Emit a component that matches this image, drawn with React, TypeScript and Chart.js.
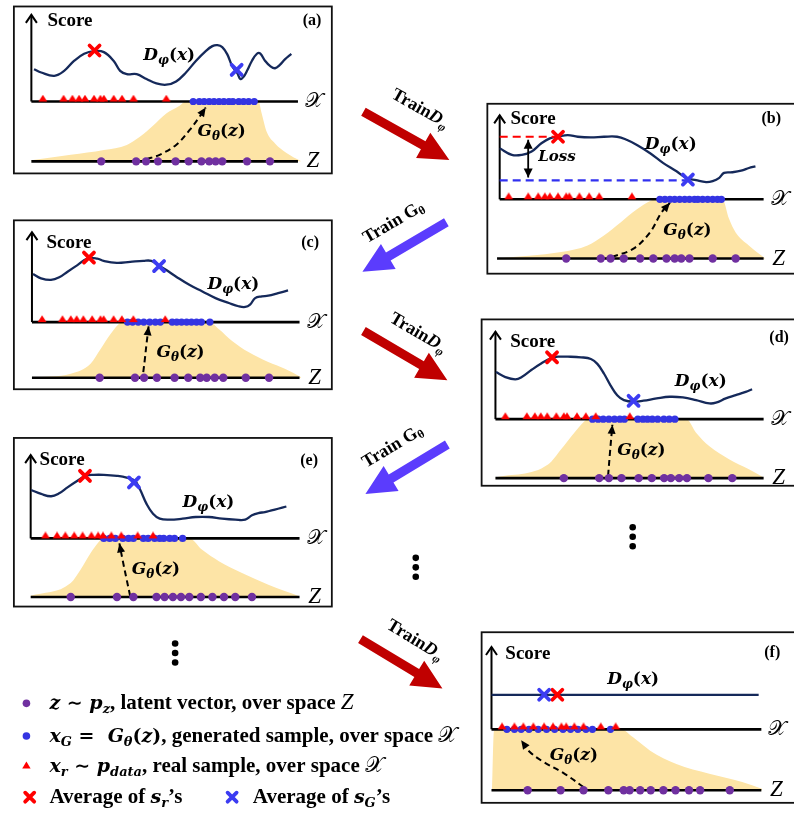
import React, { useEffect, useRef } from 'react';
import { Chart, registerables } from 'chart.js';

Chart.register(...registerables);

type P = [number, number];

// ---------------- DATA ----------------
// Panel units: x = 0..100 along the X axis, score = 0..100 from X axis to the Score arrow tip,
// density = 0..100 from the Z axis up to the X axis.

// (a)
const curveA: P[] = [[1.0,37.3],[3.7,33.5],[8.6,29.7],[12.3,35.4],[16.0,46.8],[19.8,55.1],[23.5,58.2],[27.2,57.0],[30.9,46.8],[33.3,35.4],[35.8,31.6],[39.5,31.6],[43.2,25.9],[46.9,20.9],[50.6,19.4],[54.3,23.2],[58.0,33.5],[61.7,46.8],[65.4,58.2],[67.9,63.9],[69.8,65.0],[71.6,62.7],[73.5,54.4],[75.3,41.1],[77.2,33.0],[78.4,25.9],[79.6,28.5],[80.9,35.4],[82.7,46.8],[84.6,55.1],[85.8,55.5],[87.7,46.8],[89.5,41.1],[91.4,38.4],[93.2,42.2],[95.1,48.7],[97.5,55.1]];
const avgRealA: P = [23.7, 58.9];
const avgGenA: P = [77.0, 36.5];
const realA = [4.3,12.1,15.4,17.9,20.1,23.5,25.9,27.2,30.9,34.0,38.3,50.6];
const genA = [60.7,63.0,64.8,66.7,68.5,70.4,72.2,74.1,75.6,77.8,79.6,81.5,83.6];
const latentA = [26.2,39.3,43.0,47.5,54.1,59.0,63.8,66.7,69.1,71.6,80.9,89.5];
const densityA: P[] = [[0,2],[14.8,11],[27.2,19],[35.8,27.5],[40.7,41],[45.7,60],[50.6,80],[55.6,93],[58.0,100],[85.2,100],[86.4,80],[88.3,49],[91.4,30],[95.7,14],[101.2,0]];
const mapA: P[] = [[43.2,3.8],[48.1,11],[54.3,27.5],[59.3,52],[63.0,74],[65.4,90]];

// (b)
const curveB: P[] = [[0,60.8],[4.6,52.9],[8.4,52.9],[12.1,56.9],[15.8,66.7],[19.0,72.5],[22.1,74.5],[25.8,76.5],[29.6,74.5],[34.5,73.7],[39.5,74.5],[44.5,74.5],[48.3,70.6],[52.0,64.7],[57.0,54.9],[62.0,43.1],[67.0,33.3],[70.7,25.5],[74.4,22.7],[78.2,20.4],[80.7,21.6],[83.2,25.5],[85.0,31.4],[88.2,32.2],[91.9,34.5],[94.4,37.3],[96.9,39.2]];
const avgRealB: P = [22.1, 74.5];
const avgGenB: P = [71.3, 23.5];
const realB = [3.4,10.8,14.6,17.1,19.0,22.1,25.2,26.4,30.2,33.9,37.7,50.1];
const genB = [60.7,62.6,64.5,66.3,68.2,70.1,71.9,73.8,75.1,76.9,78.8,80.7,82.5,84.0];
const latentB = [25.2,38.3,42.0,47.0,53.2,58.2,63.2,66.3,68.8,71.9,80.7,89.4];
const densityB: P[] = [[-1,0],[23.3,11],[33.3,22],[39.5,39],[45.8,61],[52.0,83],[57.0,97],[59.5,100],[84.4,100],[86.9,67],[89.4,44],[94.4,22],[100.6,0]];
const mapB: P[] = [[42.6,2.8],[50.7,16.7],[57.0,44.4],[61.3,77.8],[64.5,94]];
const realLevelB: P[] = [[0,74.5],[22.1,74.5]];
const genLevelB: P[] = [[0,22.5],[71.3,22.5]];
const lossB: P[] = [[10.8,71],[10.8,26]];

// (c)
const curveC: P[] = [[0.4,53.5],[3.4,48.7],[7.1,46.9],[10.2,49.8],[13.3,56.0],[17.0,63.4],[20.7,70.7],[24.4,70.7],[26.8,68.1],[31.7,65.9],[36.7,67.0],[41.6,68.1],[44.6,68.1],[47.1,63.4],[50.2,57.9],[53.9,50.5],[58.8,41.4],[63.7,34.1],[68.6,26.7],[73.6,21.2],[77.2,17.6],[79.7,16.8],[81.5,19.4],[83.4,26.7],[85.9,28.6],[88.3,29.3],[92.0,32.2],[95.7,35.2]];
const avgRealC: P = [21.3, 71.8];
const avgGenC: P = [47.5, 62.3];
const realC = [3.8,11.4,14.5,16.7,19.2,22.5,25.6,26.8,30.5,33.6,37.9,49.8];
const genC = [35.7,37.6,39.7,41.8,44.0,46.1,48.0,52.4,54.1,55.9,57.8,59.6,61.5,63.3,66.5];
const latentC = [25.3,38.5,41.9,46.7,53.3,58.4,62.9,65.3,68.3,71.5,79.9,88.6];
const densityC: P[] = [[0,0],[14.5,7],[21.9,25],[25.6,51],[29.3,78],[33.0,99],[33.6,100],[66.2,100],[69.9,87],[74.8,66],[80.9,46],[88.3,28],[94.5,16],[100.6,1]];
const mapC: P[] = [[41.6,10],[42.2,33.7],[42.8,60.4],[43.6,92.3]];

// (d)
const curveD: P[] = [[0.2,53.8],[3.7,48.1],[7.4,45.5],[9.8,48.1],[13.5,56.4],[17.2,63.9],[20.9,69.9],[23.3,71.4],[27.0,71.4],[31.9,70.7],[35.6,68.8],[38.0,63.2],[40.5,51.9],[42.9,38.7],[45.4,27.4],[47.9,21.8],[51.5,19.9],[55.2,21.1],[60.1,23.7],[65.0,25.6],[69.9,24.8],[74.8,21.8],[79.8,18.0],[82.2,18.8],[85.9,23.7],[89.6,27.4],[93.3,31.2],[95.7,34.2]];
const avgRealD: P = [21.1, 70.7];
const avgGenD: P = [51.5, 21.0];
const realD = [3.7,11.7,14.7,16.9,19.3,22.7,25.5,26.7,30.4,33.7,37.4,50.1];
const genD = [36.2,38.3,40.2,42.3,44.4,46.4,48.1,53.1,55.0,56.7,58.5,60.5,62.8,64.8,66.9];
const latentD = [25.5,38.7,42.3,47.0,53.4,58.3,62.9,65.4,68.5,71.4,79.4,88.3];
const densityD: P[] = [[0,1],[19.6,23],[24.5,49],[29.4,77],[33.1,96],[34.4,100],[71.2,100],[74.8,77],[79.8,54],[87.1,32],[94.5,15],[100,1]];
const mapD: P[] = [[42.0,3.9],[42.7,43],[43.6,90.5]];

// (e)
const curveE: P[] = [[0.2,58.1],[3.9,53.4],[7.6,50.6],[10.6,54.2],[13.7,61.3],[17.4,69.2],[20.4,75.1],[23.5,76.3],[27.2,76.3],[32.1,75.1],[35.7,73.1],[38.8,69.2],[40.6,59.3],[43.1,41.5],[45.5,29.6],[48.0,23.7],[51.7,22.5],[56.5,23.7],[61.4,25.7],[66.3,25.7],[71.2,23.7],[76.1,22.5],[79.8,22.5],[82.3,27.7],[84.7,30.4],[87.1,31.6],[89.6,33.6],[92.0,35.6],[95.1,38.3]];
const avgRealE: P = [20.2, 75.1];
const avgGenE: P = [38.4, 67.2];
const realE = [5.5,9.8,12.9,16.2,19.3,22.6,25.1,26.9,30.0,33.7,39.8,45.5];
const genE = [27.2,29.4,31.5,34.3,36.4,38.2,41.9,43.7,46.1,48.0,49.5,51.7,53.5,56.5];
const latentE = [14.9,32.1,38.2,46.8,49.8,52.9,55.9,59.0,63.3,67.6,71.9,76.1,82.3];
const densityE: P[] = [[0,2],[14.9,24],[18.6,47],[22.3,75],[25.3,94],[26.6,100],[59.0,100],[63.9,80],[70.0,61],[78.6,41],[88.4,21],[94.5,10],[99.4,2]];
const mapE: P[] = [[37.0,1.7],[35.7,29.8],[34.3,60.7],[33.0,91.6]];

// (f)
const curveF: P[] = [[0,42],[99,42]];
const avgRealF: P = [24.4, 42];
const avgGenF: P = [19.5, 42];
const realF = [3.9,8.5,11.8,15.5,19.5,22.8,25.9,27.7,30.7,34.1,40.5,46.0];
const genF = [5.7,8.5,11.0,13.9,17.3,20.4,23.4,26.5,29.3,32.0,35.0,37.4,44.1];
const latentF = [13.4,25.6,34.1,43.3,49.0,51.2,55.1,59.0,63.7,68.2,73.2,77.3,88.3];
const densityF: P[] = [[0.2,0],[0.9,97],[2.7,100],[47.8,100],[52.7,86],[58.8,65],[68.5,43],[80.7,27],[92.9,13.5],[100.2,2.7]];
const mapF: P[] = [[34.1,5.4],[27.1,27],[18.5,48.6],[13.7,64.9],[11.0,82.2]];

// ---------------- LAYOUT / STYLE ----------------
const W = 794;
const H = 818;
const RED = '#ff0000';
const BLUE_X = '#3c3cf2';
const BLUE_DOT = '#3434e2';
const PURPLE = '#7030a0';
const NAVY = '#15295a';
const GOLD = '#fde4a6';
const DARK_RED = '#c00000';
const VIOLET = '#5b3cfd';

const SERIF = '"Liberation Serif", "Times New Roman", serif';
const MATHF = '"DejaVu Serif", serif';
const SCRIPTF = '"DejaVu Sans", "DejaVu Serif", "Noto Sans", serif';
const fT = (n: number) => `bold ${n}px ${SERIF}`;
const fTI = (n: number) => `italic bold ${n}px ${SERIF}`;
const fM = (n: number) => `italic bold ${n}px ${MATHF}`;
const fU = (n: number) => `bold ${n}px ${MATHF}`;
const fS = (n: number) => `${n}px ${SCRIPTF}`;
const fZ = (n: number) => `italic ${n}px ${SERIF}`;

interface PanelData {
  curve: P[]; avgReal: P; avgGen: P; real: number[]; gen: number[]; latent: number[]; density: P[]; map: P[];
}
interface Layout {
  id: string; tag: string; d: PanelData;
  box: [number, number, number, number];
  axL: number; axR: number; xY: number; tipY: number; zY: number; zStart: number;
  tagPos: P; scorePos: P; dLabel: P; gLabel: P;
}

const panels: Layout[] = [
  { id: 'a', tag: '(a)', d: { curve: curveA, avgReal: avgRealA, avgGen: avgGenA, real: realA, gen: genA, latent: latentA, density: densityA, map: mapA },
    box: [9, 1.5, 331, 170.5], axL: 26.7, axR: 296.7, xY: 97.7, tipY: 10, zY: 158.3, zStart: 0,
    tagPos: [311, 16], scorePos: [43, 16], dLabel: [42, 54.4], gLabel: [62.3, 52] },
  { id: 'b', tag: '(b)', d: { curve: curveB, avgReal: avgRealB, avgGen: avgGenB, real: realB, gen: genB, latent: latentB, density: densityB, map: mapB },
    box: [488.5, 100, 810, 272], axL: 501, axR: 768.3, xY: 196.7, tipY: 111.7, zY: 256.7, zStart: -1,
    tagPos: [776, 115], scorePos: [512, 115], dLabel: [55, 66.7], gLabel: [62, 50] },
  { id: 'c', tag: '(c)', d: { curve: curveC, avgReal: avgRealC, avgGen: avgGenC, real: realC, gen: genC, latent: latentC, density: densityC, map: mapC },
    box: [9, 218, 331, 389], axL: 27.3, axR: 298.3, xY: 321, tipY: 230, zY: 377.3, zStart: 0,
    tagPos: [309, 241], scorePos: [42, 241], dLabel: [65.6, 43.2], gLabel: [46.5, 48.5] },
  { id: 'd', tag: '(d)', d: { curve: curveD, avgReal: avgRealD, avgGen: avgGenD, real: realD, gen: genD, latent: latentD, density: densityD, map: mapD },
    box: [482.7, 318.3, 805, 486.7], axL: 496.7, axR: 768.3, xY: 419.3, tipY: 330.7, zY: 479, zStart: 0,
    tagPos: [784, 337], scorePos: [511.7, 341.7], dLabel: [66.9, 44.4], gLabel: [45.4, 48.6] },
  { id: 'e', tag: '(e)', d: { curve: curveE, avgReal: avgRealE, avgGen: avgGenE, real: realE, gen: genE, latent: latentE, density: densityE, map: mapE },
    box: [9, 438.3, 331, 609], axL: 26, axR: 298.3, xY: 540, tipY: 455.7, zY: 599.3, zStart: 0,
    tagPos: [308, 461], scorePos: [35, 461], dLabel: [56.5, 45.5], gLabel: [37.6, 49.4] },
  { id: 'f', tag: '(f)', d: { curve: curveF, avgReal: avgRealF, avgGen: avgGenF, real: realF, gen: genF, latent: latentF, density: densityF, map: mapF },
    box: [482.7, 635, 805, 807.7], axL: 492.7, axR: 766, xY: 733.3, tipY: 650, zY: 795, zStart: 0,
    tagPos: [777, 656], scorePos: [506.7, 656.7], dLabel: [42.9, 62], gLabel: [21.6, 59.5] },
];

const trainArrows: { kind: 'D' | 'G'; tail: P; tip: P; label: P }[] = [
  { kind: 'D', tail: [363, 108], tip: [450, 157], label: [421, 104] },
  { kind: 'G', tail: [447, 220], tip: [362, 270], label: [393, 219] },
  { kind: 'D', tail: [363, 330], tip: [448, 380], label: [419, 331] },
  { kind: 'G', tail: [448, 445], tip: [365, 495], label: [392, 446] },
  { kind: 'D', tail: [360, 642], tip: [443, 692], label: [416, 642] },
];
const ellipses: P[] = [[416, 569.3], [635.7, 538.3], [172.3, 656]];

type Seg = [string, string, number?];

function segsWidth(ctx: CanvasRenderingContext2D, segs: Seg[]) {
  let w = 0;
  for (const s of segs) { ctx.font = s[1]; w += ctx.measureText(s[0]).width; }
  return w;
}
function drawSegs(ctx: CanvasRenderingContext2D, segs: Seg[], x: number, y: number, align: 'left' | 'center') {
  ctx.textBaseline = 'alphabetic';
  ctx.textAlign = 'left';
  let cx = align === 'center' ? x - segsWidth(ctx, segs) / 2 : x;
  for (const s of segs) {
    ctx.font = s[1];
    ctx.fillText(s[0], cx, y + (s[2] || 0));
    cx += ctx.measureText(s[0]).width;
  }
}

const dLabelSegs: Seg[] = [['D', fM(17)], ['φ', fM(12), 4], ['(', fU(17)], ['x', fM(17)], [')', fU(17)]];
const gLabelSegs: Seg[] = [['G', fM(17)], ['θ', fM(12), 4], ['(', fU(17)], ['z', fM(17)], [')', fU(17)]];

const legendLines: { marker: string; mx: number; y: number; segs: Seg[]; x: number }[] = [
  { marker: 'purple', mx: 21.7, y: 707, x: 45, segs: [['z', fM(19)], [' ∼ ', fU(19)], ['p', fM(19)], ['z', fM(13), 4], [', latent vector, over space ', fT(21)], ['Z', fZ(23)]] },
  { marker: 'blue', mx: 21.7, y: 740, x: 45, segs: [['x', fM(19)], ['G', fM(13), 4], [' =  ', fU(19)], ['G', fM(19)], ['θ', fM(13), 4], ['(', fU(19)], ['z', fM(19)], [')', fU(19)], [', generated sample, over space ', fT(21)], ['𝒳', fS(22)]] },
  { marker: 'tri', mx: 21.7, y: 770, x: 45, segs: [['x', fM(19)], ['r', fM(13), 4], [' ∼ ', fU(19)], ['p', fM(19)], ['data', fM(13), 4], [', real sample, over space ', fT(21)], ['𝒳', fS(22)]] },
  { marker: 'redx', mx: 25, y: 802, x: 45, segs: [['Average of ', fT(21)], ['s', fM(19)], ['r', fM(13), 4], ['’s', fT(21)]] },
  { marker: 'bluex', mx: 230, y: 802, x: 251, segs: [['Average of ', fT(21)], ['s', fM(19)], ['G', fM(13), 4], ['’s', fT(21)]] },
];

function makeTriangle(color: string) {
  const c = document.createElement('canvas');
  c.width = 10; c.height = 14;
  const g = c.getContext('2d')!;
  g.fillStyle = color;
  g.beginPath(); g.moveTo(5, 0.3); g.lineTo(9.4, 7); g.lineTo(0.6, 7); g.closePath(); g.fill();
  return c;
}

function fatArrow(ctx: CanvasRenderingContext2D, t: P, h: P, color: string) {
  const dx = h[0] - t[0], dy = h[1] - t[1];
  const len = Math.hypot(dx, dy);
  const ux = dx / len, uy = dy / len, nx = -uy, ny = ux;
  const sw = 4.6, hw = 14.5, hl = 30;
  const bx = h[0] - ux * hl, by = h[1] - uy * hl;
  ctx.fillStyle = color;
  ctx.beginPath();
  ctx.moveTo(t[0] + nx * sw, t[1] + ny * sw);
  ctx.lineTo(bx + nx * sw, by + ny * sw);
  ctx.lineTo(bx + nx * hw, by + ny * hw);
  ctx.lineTo(h[0], h[1]);
  ctx.lineTo(bx - nx * hw, by - ny * hw);
  ctx.lineTo(bx - nx * sw, by - ny * sw);
  ctx.lineTo(t[0] - nx * sw, t[1] - ny * sw);
  ctx.closePath();
  ctx.fill();
}

function headAt(ctx: CanvasRenderingContext2D, tip: P, from: P, len: number, wid: number) {
  const dx = tip[0] - from[0], dy = tip[1] - from[1];
  const l = Math.hypot(dx, dy) || 1;
  const ux = dx / l, uy = dy / l, nx = -uy, ny = ux;
  ctx.beginPath();
  ctx.moveTo(tip[0], tip[1]);
  ctx.lineTo(tip[0] - ux * len + nx * wid / 2, tip[1] - uy * len + ny * wid / 2);
  ctx.lineTo(tip[0] - ux * len - nx * wid / 2, tip[1] - uy * len - ny * wid / 2);
  ctx.closePath();
  ctx.fill();
}

function drawX(ctx: CanvasRenderingContext2D, x: number, y: number, r: number, color: string) {
  ctx.save();
  ctx.strokeStyle = color; ctx.lineWidth = 3.8; ctx.lineCap = 'round';
  ctx.beginPath();
  ctx.moveTo(x - r, y - r); ctx.lineTo(x + r, y + r);
  ctx.moveTo(x + r, y - r); ctx.lineTo(x - r, y + r);
  ctx.stroke();
  ctx.restore();
}

function buildScales() {
  const scales: any = {
    x: { type: 'linear', display: false, min: 0, max: 1 },
    y: { type: 'linear', display: false, min: 0, max: 1 },
    px: { type: 'linear', axis: 'x', display: false, min: 0, max: W },
    py: { type: 'linear', axis: 'y', display: false, min: 0, max: H, reverse: true },
  };
  for (const L of panels) {
    const span = L.axR - L.axL;
    const xmin = -L.axL * 100 / span;
    const su = (L.xY - L.tipY) / 100;
    const smin = -(H - L.xY) / su;
    const du = (L.zY - L.xY) / 100;
    const dmin = -(H - L.zY) / du;
    scales['x' + L.id] = { type: 'linear', axis: 'x', display: false, min: xmin, max: xmin + 100 * W / span };
    scales['s' + L.id] = { type: 'linear', axis: 'y', display: false, min: smin, max: smin + H / su };
    scales['d' + L.id] = { type: 'linear', axis: 'y', display: false, min: dmin, max: dmin + H / du };
  }
  return scales;
}

const pts = (a: P[]) => a.map(([x, y]) => ({ x, y }));

function buildDatasets(tri: HTMLCanvasElement) {
  const out: any[] = [];
  for (const L of panels) {
    const xs = 'x' + L.id, ss = 's' + L.id, dd = 'd' + L.id;
    const D = L.d;
    out.push({ type: 'line', data: pts(D.density), xAxisID: xs, yAxisID: dd, fill: 'origin', backgroundColor: GOLD, borderWidth: 0, pointRadius: 0, cubicInterpolationMode: 'monotone', order: 100 });
    out.push({ type: 'line', data: pts([[0, 0], [100, 0]]), xAxisID: xs, yAxisID: ss, borderColor: '#000', borderWidth: 2.6, pointRadius: 0, order: 50 });
    out.push({ type: 'line', data: pts([[L.zStart, 0], [100, 0]]), xAxisID: xs, yAxisID: dd, borderColor: '#000', borderWidth: 2.6, pointRadius: 0, order: 50 });
    out.push({ type: 'line', data: pts([[0, 0], [0, 100]]), xAxisID: xs, yAxisID: ss, borderColor: '#000', borderWidth: 2, pointRadius: 0, order: 50 });
    out.push({ type: 'line', data: pts(D.curve), xAxisID: xs, yAxisID: ss, borderColor: NAVY, borderWidth: 2.3, pointRadius: 0, tension: 0.4, order: 40 });
    out.push({ type: 'line', data: pts(D.map), xAxisID: xs, yAxisID: dd, borderColor: '#000', borderWidth: 2, borderDash: [6, 4], pointRadius: 0, tension: 0.35, order: 30 });
    if (L.id === 'b') {
      out.push({ type: 'line', data: pts(realLevelB), xAxisID: xs, yAxisID: ss, borderColor: RED, borderWidth: 2.2, borderDash: [8, 5], pointRadius: 0, order: 35 });
      out.push({ type: 'line', data: pts(genLevelB), xAxisID: xs, yAxisID: ss, borderColor: '#3030f0', borderWidth: 2.2, borderDash: [8, 5], pointRadius: 0, order: 35 });
      out.push({ type: 'line', data: pts(lossB), xAxisID: xs, yAxisID: ss, borderColor: '#000', borderWidth: 1.8, pointRadius: 0, order: 35 });
    }
    out.push({ type: 'scatter', data: D.latent.map((x) => ({ x, y: 0 })), xAxisID: xs, yAxisID: dd, pointStyle: 'circle', pointRadius: 4.2, backgroundColor: PURPLE, borderWidth: 0, order: 5 });
    out.push({ type: 'scatter', data: D.gen.map((x) => ({ x, y: 0 })), xAxisID: xs, yAxisID: ss, pointStyle: 'circle', pointRadius: 3.6, backgroundColor: BLUE_DOT, borderWidth: 0, order: 4 });
    out.push({ type: 'scatter', data: D.real.map((x) => ({ x, y: 0 })), xAxisID: xs, yAxisID: ss, pointStyle: tri, pointRadius: 5, backgroundColor: RED, borderWidth: 0, order: 3 });
  }
  return out;
}

const diagramPlugin = {
  id: 'diagram',
  afterDatasetsDraw(chart: any) {
    const ctx: CanvasRenderingContext2D = chart.ctx;
    const sx = chart.scales.px, sy = chart.scales.py;
    const pg = (p: P): P => [sx.getPixelForValue(p[0]), sy.getPixelForValue(p[1])];
    ctx.save();
    for (const L of panels) {
      const X = chart.scales['x' + L.id], S = chart.scales['s' + L.id], Dd = chart.scales['d' + L.id];
      const sp = (p: P): P => [X.getPixelForValue(p[0]), S.getPixelForValue(p[1])];
      const dp = (p: P): P => [X.getPixelForValue(p[0]), Dd.getPixelForValue(p[1])];
      const r = sp(L.d.avgReal), g = sp(L.d.avgGen);
      drawX(ctx, r[0], r[1], 5, RED);
      drawX(ctx, g[0], g[1], 5, BLUE_X);
      const b0 = pg([L.box[0], L.box[1]]), b1 = pg([L.box[2], L.box[3]]);
      ctx.strokeStyle = '#111'; ctx.lineWidth = 1.8;
      ctx.strokeRect(b0[0], b0[1], b1[0] - b0[0], b1[1] - b0[1]);
      const tip = sp([0, 100]);
      ctx.strokeStyle = '#000'; ctx.lineWidth = 2; ctx.lineCap = 'butt';
      ctx.beginPath();
      ctx.moveTo(tip[0] - 5.5, tip[1] + 8); ctx.lineTo(tip[0], tip[1]); ctx.lineTo(tip[0] + 5.5, tip[1] + 8);
      ctx.stroke();
      const m = L.d.map;
      ctx.fillStyle = '#000';
      headAt(ctx, dp(m[m.length - 1]), dp(m[m.length - 2]), 9, 8);
      if (L.id === 'b') {
        headAt(ctx, sp(lossB[0]), sp(lossB[1]), 9, 9);
        headAt(ctx, sp(lossB[1]), sp(lossB[0]), 9, 9);
        const lp = sp([14.6, 51]);
        ctx.fillStyle = '#000';
        drawSegs(ctx, [['Loss', fM(15)]], lp[0], lp[1] + 5, 'left');
      }
      ctx.fillStyle = '#000';
      const scp = pg(L.scorePos);
      ctx.font = fT(19); ctx.textAlign = 'left'; ctx.textBaseline = 'middle';
      ctx.fillText('Score', scp[0], scp[1]);
      const tg = pg(L.tagPos);
      ctx.font = fT(16); ctx.textAlign = 'center';
      ctx.fillText(L.tag, tg[0], tg[1]);
      const xl = sp([100, 0]);
      const zl = dp([100, 0]);
      ctx.font = fS(21);
      ctx.fillText('𝒳', xl[0] + 16, xl[1]);
      ctx.font = fZ(23);
      ctx.fillText('Z', zl[0] + 15, zl[1]);
      const dl = sp(L.dLabel);
      drawSegs(ctx, dLabelSegs, dl[0], dl[1] + 6, 'left');
      const gl = dp(L.gLabel);
      drawSegs(ctx, gLabelSegs, gl[0], gl[1] + 6, 'left');
    }
    for (const A of trainArrows) {
      const t = pg(A.tail), h = pg(A.tip);
      fatArrow(ctx, t, h, A.kind === 'D' ? DARK_RED : VIOLET);
      const c = pg(A.label);
      const ang = A.kind === 'D' ? Math.atan2(h[1] - t[1], h[0] - t[0]) : Math.atan2(t[1] - h[1], t[0] - h[0]);
      ctx.save();
      ctx.translate(c[0], c[1]);
      ctx.rotate(ang);
      ctx.fillStyle = '#000';
      const segs: Seg[] = A.kind === 'D'
        ? [['Train', fT(18)], ['D', fTI(18)], ['φ', fTI(12), 4]]
        : [['Train G', fT(18)], ['θ', fT(12), 3]];
      drawSegs(ctx, segs, 0, 6, 'center');
      ctx.restore();
    }
    ctx.fillStyle = '#000';
    for (const e of ellipses) {
      for (const k of [-1, 0, 1]) {
        const p = pg([e[0], e[1] + k * 9.6]);
        ctx.beginPath(); ctx.arc(p[0], p[1], 3.3, 0, Math.PI * 2); ctx.fill();
      }
    }
    for (const Lg of legendLines) {
      const mp = pg([Lg.mx, Lg.y]);
      if (Lg.marker === 'purple' || Lg.marker === 'blue') {
        ctx.fillStyle = Lg.marker === 'purple' ? PURPLE : BLUE_DOT;
        ctx.beginPath(); ctx.arc(mp[0], mp[1], 3.8, 0, Math.PI * 2); ctx.fill();
      } else if (Lg.marker === 'tri') {
        ctx.fillStyle = RED;
        ctx.beginPath(); ctx.moveTo(mp[0], mp[1] - 4); ctx.lineTo(mp[0] + 4.2, mp[1] + 3); ctx.lineTo(mp[0] - 4.2, mp[1] + 3); ctx.closePath(); ctx.fill();
      } else {
        drawX(ctx, mp[0], mp[1], 4.5, Lg.marker === 'redx' ? RED : BLUE_X);
      }
      const tp = pg([Lg.x, Lg.y]);
      ctx.fillStyle = '#000';
      drawSegs(ctx, Lg.segs, tp[0], tp[1] + 6, 'left');
    }
    ctx.restore();
  },
};

export default function App() {
  const ref = useRef<HTMLCanvasElement | null>(null);
  useEffect(() => {
    if (!ref.current) return;
    const tri = makeTriangle(RED);
    const chart = new Chart(ref.current, {
      type: 'scatter',
      data: { datasets: buildDatasets(tri) },
      options: {
        responsive: false,
        animation: false,
        devicePixelRatio: 1,
        events: [],
        layout: { padding: 0 },
        plugins: { legend: { display: false }, tooltip: { enabled: false }, title: { display: false } },
        scales: buildScales(),
      },
      plugins: [diagramPlugin],
    } as any);
    return () => chart.destroy();
  }, []);
  return (
    <div style={{ position: 'absolute', left: 0, top: 0, width: W, height: H, background: '#fff', overflow: 'hidden' }}>
      <canvas ref={ref} width={W} height={H} style={{ display: 'block', width: W, height: H }} />
    </div>
  );
}
